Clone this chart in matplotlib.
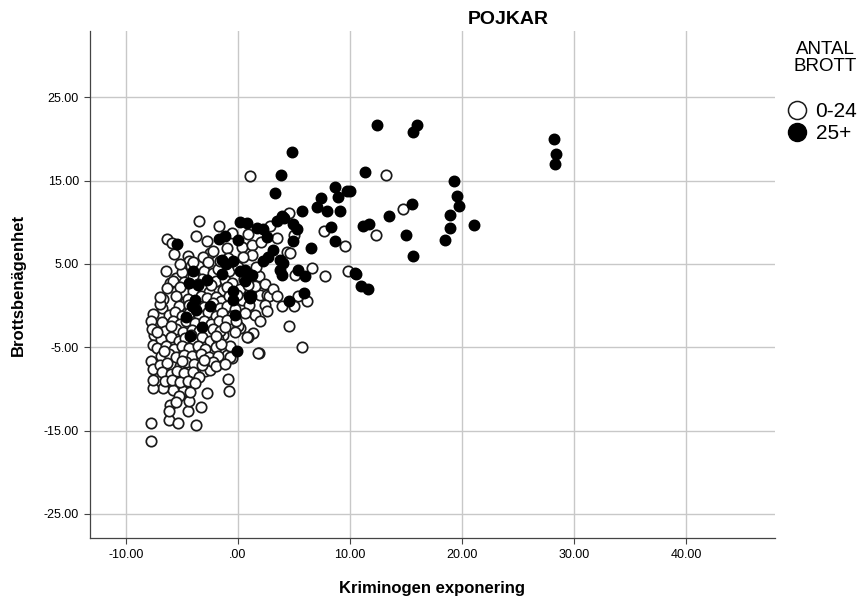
import matplotlib
matplotlib.use("Agg")
import matplotlib.pyplot as plt
from matplotlib.lines import Line2D

plt.rcParams['font.family'] = ['Liberation Sans', 'DejaVu Sans']

# ---- data: group "0-24" (open circles) ----
open_pts = [
    (13.2, 15.7), (14.7, 11.6), (12.3, 8.5), (1.07, 15.6), (4.55, 11.1), (5.0, 8.5), (7.7, 9.0),
    (9.55, 7.2), (3.5, 8.1), (2.86, 9.5), (0.33, 7.0), (1.22, 7.3), (1.22, 6.1), (0.48, 5.8),
    (4.35, 6.4), (4.64, 6.3), (6.58, 4.5), (7.77, 3.6), (5.1, 3.7), (9.85, 4.2),
    (1.96, 1.3), (2.56, 1.3), (2.8, 1.1), (5.4, 1.1), (3.9, 0.0), (5.03, 0.0), (6.13, 0.6),
    (2.4, 0.1), (2.6, -0.6), (1.5, -1.1), (1.96, -1.9), (4.6, -2.5), (0.2, -2.7), (1.37, -3.3),
    (0.92, -3.8), (1.9, -5.7), (5.74, -5.0), (-0.56, -6.3),
    (-7.8, -16.2), (-7.8, -14.1), (-6.2, -13.7), (-5.33, -14.1), (-3.75, -14.3), (-6.07, -11.9),
    (-6.2, -12.7), (-4.5, -12.6), (-4.4, -11.4), (-3.33, -12.2), (-2.8, -10.5), (-0.87, -8.8),
    (-0.78, -10.3), (-4.9, -10.2), (-5.78, -10.1), (-6.67, -9.9), (-7.56, -9.9), (-7.56, -8.9),
    (-7.8, -6.7), (-7.56, -7.6), (-6.67, -6.4), (-5.78, -7.3), (-2.95, -7.9), (-2.5, -7.7),
    (-1.0, -5.9), (-0.7, -6.2), (1.76, -5.7), (-1.3, -3.5), (-0.7, -4.9), (0.83, -3.8),
    (-0.78, -2.3), (0.0, -2.5), (-7.47, -3.5), (-7.6, -4.7),
    (-3.5, 10.2), (-1.67, 9.5), (-6.3, 8.0), (-5.9, 7.5), (-5.7, 6.2), (-3.75, 8.4), (-2.74, 7.8),
    (-1.0, 6.9), (-2.5, 6.3), (-2.2, 6.6), (-4.5, 5.9), (-4.35, 5.3), (-4.2, 4.7), (-3.54, 4.9),
    (-5.5, 3.3), (-6.07, 2.7), (1.9, 3.6), (-6.67, 0.8), (-6.8, -0.3), (-7.56, -1.0),
    (-4.73, 1.5), (-4.73, 0.3), (-2.35, 1.9), (-1.76, 1.7), (-1.3, 1.9),
    (-5.0, 4.0), (-3.0, 4.2), (-2.2, 3.9), (-1.8, 4.4), (-0.8, 4.1),
    (-5.8, 3.0), (-4.8, 2.8), (-3.2, 3.2), (-2.0, 2.9), (-1.2, 3.1), (-0.5, 2.7), (0.5, 3.2),
    (-6.3, 2.1), (-5.2, 2.2), (-4.0, 1.8), (-3.0, 2.1), (-2.6, 1.6), (-1.0, 2.2), (0.2, 2.0), (1.5, 2.3),
    (-5.5, 1.1), (-4.5, 0.8), (-3.3, 1.2), (-2.8, 0.9), (-2.0, 1.0), (-1.5, 0.6), (-0.8, 1.2), (0.4, 0.7),
    (-7.0, 0.2), (-5.3, -0.1), (-4.4, 0.1), (-3.0, -0.2), (-2.2, 0.3), (-1.6, -0.3), (-1.0, 0.0), (-0.3, -0.4), (1.0, 0.1),
    (-6.2, -1.1), (-5.6, -0.8), (-5.0, -1.2), (-4.4, -0.9), (-3.5, -1.1), (-2.7, -0.8), (-2.0, -1.2), (-1.4, -0.9), (-0.5, -1.3), (0.6, -0.9),
    (-6.8, -2.0), (-5.8, -1.8), (-5.2, -2.2), (-4.6, -1.9), (-3.8, -2.1), (-3.0, -1.8), (-2.4, -2.2), (-1.7, -1.9), (-1.0, -1.7),
    (-6.5, -3.1), (-5.5, -2.8), (-4.9, -3.2), (-4.1, -2.9), (-3.5, -3.0), (-2.8, -3.3), (-2.2, -2.8), (-1.6, -3.0), (-0.3, -3.2),
    (-6.9, -4.0), (-6.0, -3.8), (-5.3, -4.2), (-4.7, -3.9), (-3.9, -4.1), (-3.2, -3.8), (-2.5, -4.2), (-1.8, -4.0),
    (-7.2, -5.1), (-6.4, -4.8), (-5.7, -5.2), (-5.0, -4.9), (-4.4, -5.1), (-3.6, -4.8), (-2.9, -5.2), (-2.0, -5.0), (-1.5, -4.6),
    (-6.9, -6.0), (-6.2, -5.8), (-5.5, -6.2), (-4.8, -5.9), (-4.1, -6.1), (-3.3, -5.8), (-2.6, -6.2), (-1.8, -6.0),
    (-7.0, -7.1), (-6.3, -6.9), (-5.2, -7.2), (-4.6, -6.8), (-3.9, -7.0), (-3.2, -7.1), (-2.2, -6.8),
    (-6.8, -8.0), (-6.0, -8.2), (-5.4, -7.9), (-4.8, -8.1), (-4.0, -8.0), (-3.5, -8.6),
    (-6.5, -9.1), (-5.9, -8.9), (-5.2, -9.2), (-4.5, -9.0), (-3.8, -9.3),
    (-5.3, -10.8), (-4.3, -10.4),
    (-7.8, -1.9), (-7.7, -2.8), (-7.0, 1.0), (-6.4, 4.2), (-5.2, 5.0), (-3.1, 5.8), (-2.7, 5.2),
    (-1.6, 5.4), (-0.9, 5.7), (-4.0, 3.5), (-3.6, 2.6), (-2.4, 2.5), (-0.1, 1.3), (0.9, 2.5),
    (-6.0, -2.5), (-4.2, -3.5), (-2.0, -3.6), (-1.2, -2.6), (-0.2, -1.8), (-5.0, -6.6), (-3.0, -6.5),
    (-2.0, -7.3), (-1.2, -7.0), (-6.6, -5.4), (-4.0, 5.2), (0.0, 4.6), (1.6, 4.6), (2.4, 2.6),
    (3.1, 2.0), (3.5, 1.2), (-0.5, 8.7), (0.9, 8.6), (2.1, 7.6), (-7.2, -3.2), (-5.5, -11.6),
]

# ---- data: group "25+" (filled circles) ----
filled_pts = [
    (12.4, 21.7), (15.95, 21.7), (15.65, 20.8), (11.3, 16.1), (10.0, 13.8), (19.3, 15.0),
    (19.6, 13.2), (19.7, 11.9), (18.9, 10.9), (18.9, 9.3), (18.5, 7.9), (21.1, 9.7), (15.5, 12.2),
    (13.5, 10.8), (11.7, 9.8), (11.2, 9.5), (15.0, 8.5), (15.65, 5.9), (10.45, 3.9), (11.0, 2.3),
    (11.6, 2.0), (28.25, 20.0), (28.4, 18.2), (28.3, 17.0), (4.8, 18.4),
    (3.8, 15.7), (3.3, 13.5), (8.66, 14.2), (9.7, 13.8), (8.96, 13.1), (7.38, 12.9), (7.03, 11.8),
    (7.92, 11.4), (9.1, 11.3), (5.74, 11.3), (4.14, 10.5), (3.45, 10.1), (4.94, 9.8), (5.24, 9.2),
    (4.88, 7.7), (8.3, 9.4), (8.66, 7.7), (6.52, 6.9), (0.18, 10.0), (0.78, 9.9), (1.67, 9.3),
    (2.2, 9.2), (2.56, 8.2), (0.03, 7.9), (3.15, 6.7), (2.7, 5.8), (2.26, 5.3), (3.75, 5.5),
    (4.05, 5.1), (-0.42, 5.3), (3.75, 4.3), (3.9, 3.7), (5.4, 4.3), (6.0, 3.6), (10.5, 3.8),
    (-0.06, -5.4), (-5.4, 7.4), (-1.67, 8.0), (-1.16, 8.4), (-1.46, 5.5), (-1.46, 3.8), (-4.0, 4.1),
    (-4.35, 2.7), (-3.54, 2.5), (-2.8, 3.1), (-3.84, 0.7), (-4.1, 0.0), (-3.75, -0.5), (-2.5, -0.1),
    (-0.42, 1.7), (-0.42, 0.7), (1.07, 0.9), (-0.27, -1.1), (1.13, 1.1), (5.9, 1.5), (4.55, 0.5),
    (0.18, 4.1), (0.63, 4.3), (1.22, 3.7), (0.63, 2.9), (0.98, 1.1), (-4.3, -3.7), (-3.2, -2.6),
    (-4.6, -1.4), (3.9, 10.8), (-1.1, 5.0),
]

open_x = [p[0] for p in open_pts]
open_y = [p[1] for p in open_pts]
filled_x = [p[0] for p in filled_pts]
filled_y = [p[1] for p in filled_pts]

xticks = [-10, 0, 10, 20, 30, 40]
xtick_labels = ["-10.00", ".00", "10.00", "20.00", "30.00", "40.00"]
yticks = [25, 15, 5, -5, -15, -25]
ytick_labels = ["25.00", "15.00", "5.00", "-5.00", "-15.00", "-25.00"]

W, H = 868, 601
fig = plt.figure(figsize=(W / 100, H / 100), dpi=100)
ax = fig.add_axes([90 / W, 1 - 538 / H, (775 - 90) / W, (538 - 31) / H])

ax.set_xlim(-13.21, 47.95)
ax.set_ylim(-27.9, 32.97)

for t in xticks:
    ax.axvline(t, color="#c8c8c8", lw=1.0, zorder=0)
for t in yticks:
    ax.axhline(t, color="#c8c8c8", lw=1.0, zorder=0)

ms = 56
ax.scatter(open_x, open_y, s=ms, facecolors="white", edgecolors="#1a1a1a", linewidths=1.25, zorder=3)
ax.scatter(filled_x, filled_y, s=ms, facecolors="black", edgecolors="black", linewidths=1.1, zorder=4)

ax.set_xticks(xticks)
ax.set_xticklabels(xtick_labels, fontsize=9)
ax.set_yticks(yticks)
ax.set_yticklabels(ytick_labels, fontsize=9)
ax.tick_params(axis="both", length=4, width=0.8, color="#444444", pad=4)

for s in ["top", "right"]:
    ax.spines[s].set_visible(False)
for s in ["left", "bottom"]:
    ax.spines[s].set_color("#444444")
    ax.spines[s].set_linewidth(0.9)

fig.text(432 / W, 1 - 588 / H, "Kriminogen exponering", ha="center", va="center",
         fontsize=12, fontweight="bold")
fig.text(18 / W, 1 - 285 / H, "Brottsbenägenhet", ha="center", va="center",
         rotation=90, fontsize=12, fontweight="bold")
fig.text(508 / W, 1 - 20 / H, "POJKAR", ha="center", va="center", fontsize=14, fontweight="bold")

# legend
fig.text(825 / W, 1 - 58 / H, "ANTAL\nBROTT", ha="center", va="center", fontsize=13.5,
         linespacing=0.95)
handles = [
    Line2D([], [], marker="o", ls="", markersize=13, markerfacecolor="white",
           markeredgecolor="#1a1a1a", markeredgewidth=1.1),
    Line2D([], [], marker="o", ls="", markersize=13, markerfacecolor="black",
           markeredgecolor="black"),
]
fig.legend(handles, ["0-24", "25+"], loc="upper left", bbox_to_anchor=(777 / W, 1 - 94 / H),
           frameon=False, fontsize=15, handletextpad=0.35, labelspacing=0.12, borderaxespad=0,
           handlelength=1.1)

fig.savefig("out.png", dpi=100)
